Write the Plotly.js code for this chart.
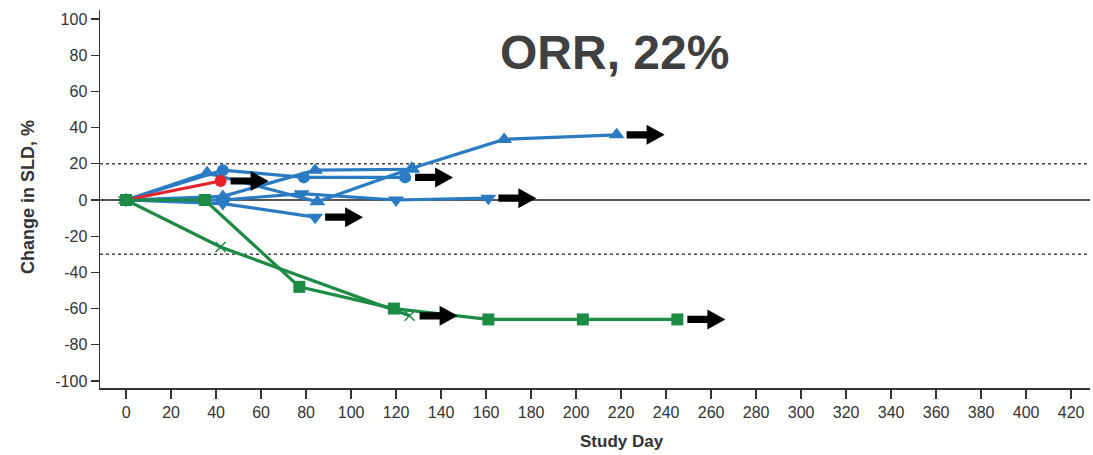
<!DOCTYPE html>
<html>
<head>
<meta charset="utf-8">
<script src="https://cdn.plot.ly/plotly-3.0.1.min.js"></script>
<style>
  html, body { margin: 0; padding: 0; background: #fff; }
  #chart { width: 1093px; height: 455px; }
</style>
</head>
<body>
<div id="chart"></div>
<script>
// ---- Data (study day, % change in SLD) ----
const blueA_day = [0, 36, 85, 127, 168, 218];
const blueA_val = [0, 15, -1, 17.5, 33.5, 36];
const blueB_day = [0, 43, 84, 127];
const blueB_val = [0, 2, 16.5, 17];
const blueC_day = [0, 43, 84];
const blueC_val = [0, -2, -9.5];
const blueD_day = [0, 43, 78, 120, 161];
const blueD_val = [0, 0, 3.5, 0, 1];
const blueE_day = [0, 43, 79, 124];
const blueE_val = [0, 16.5, 12.5, 12.5];
const red_day = [0, 42];
const red_val = [0, 10.5];
const greenSq_day = [0, 35, 77, 119, 161, 203, 245];
const greenSq_val = [0, 0, -48, -60, -66, -66, -66];
const greenX_day = [0, 42, 126];
const greenX_val = [0, -26, -64];

const xTicks = [0,20,40,60,80,100,120,140,160,180,200,220,240,260,280,300,320,340,360,380,400,420];
const yTicks = [-100,-80,-60,-40,-20,0,20,40,60,80,100];
const thresholds = [20, -30];

// ---- Style ----
const BLUE = '#2a7bc2', GREEN = '#1d8a45', RED = '#e8222b';
const W = 1093, H = 455;
const margin = {l: 100, r: 3, t: 10, b: 67};
const xRange = [-11.6, 428.4];
const yRange = [-103.9, 105];
const pxPerDay = (W - margin.l - margin.r) / (xRange[1] - xRange[0]);
const pxPerUnit = (H - margin.t - margin.b) / (yRange[1] - yRange[0]);

function series(x, y, color, symbol, msize, ongoing) {
  const mk = {symbol: symbol, size: msize, color: color};
  if (symbol === 'x-thin') mk.line = {color: color, width: 1.6};
  return {x: x, y: y, type: 'scatter', mode: 'lines+markers',
          line: {color: color, width: 3.2}, marker: mk, hoverinfo: 'skip',
          showlegend: false, ongoing: ongoing};
}

function arrowFor(x, y) {
  const d = x[x.length - 1], v = y[y.length - 1];
  const x0 = d + 10 / pxPerDay, x1 = d + 30 / pxPerDay, x2 = d + 48 / pxPerDay;
  const hs = 3.6 / pxPerUnit, hh = 10 / pxPerUnit;
  return {x: [x0, x1, x1, x2, x1, x1, x0, x0],
          y: [v - hs, v - hs, v - hh, v, v + hh, v + hs, v + hs, v - hs],
          type: 'scatter', mode: 'lines', fill: 'toself', fillcolor: '#000',
          line: {width: 0, color: '#000'}, hoverinfo: 'skip', showlegend: false};
}

const main = [
  series(blueA_day, blueA_val, BLUE, 'triangle-up', 14, true),
  series(blueB_day, blueB_val, BLUE, 'triangle-up', 14, false),
  series(blueC_day, blueC_val, BLUE, 'triangle-down', 14, true),
  series(blueD_day, blueD_val, BLUE, 'triangle-down', 14, true),
  series(blueE_day, blueE_val, BLUE, 'circle', 12, true),
  series(red_day, red_val, RED, 'circle', 12, true),
  series(greenX_day, greenX_val, GREEN, 'x-thin', 10, true),
  series(greenSq_day, greenSq_val, GREEN, 'square', 12, true)
];
const arrows = main.filter(t => t.ongoing).map(t => arrowFor(t.x, t.y));
main.forEach(t => delete t.ongoing);

const shapes = [
  {type: 'line', xref: 'paper', x0: 0, x1: 1, yref: 'y', y0: 0, y1: 0,
   line: {color: '#555', width: 2}, layer: 'below'}
].concat(thresholds.map(v => ({type: 'line', xref: 'paper', x0: 0, x1: 1, yref: 'y', y0: v, y1: v,
   line: {color: '#444', width: 1.5, dash: '3px,3px'}, layer: 'below'})));

const layout = {
  width: W, height: H, margin: margin,
  paper_bgcolor: '#fff', plot_bgcolor: '#fff',
  font: {family: 'Liberation Sans, Arial, sans-serif', color: '#333'},
  xaxis: {range: xRange, tickvals: xTicks, ticktext: xTicks.map(String),
          showgrid: false, zeroline: false, showline: true, linecolor: '#333', linewidth: 1.5,
          ticks: 'outside', ticklen: 9, tickwidth: 1.3, tickcolor: '#333',
          tickfont: {family: 'Liberation Sans Narrow, Arial Narrow, Liberation Sans, sans-serif', size: 16, color: '#333'},
          fixedrange: true},
  yaxis: {range: yRange, tickvals: yTicks, ticktext: yTicks.map(String),
          showgrid: false, zeroline: false, showline: true, linecolor: '#333', linewidth: 1.5,
          ticks: 'outside', ticklen: 8, tickwidth: 1.3, tickcolor: '#333',
          tickfont: {size: 16, color: '#333'}, fixedrange: true},
  shapes: shapes,
  annotations: [
    {text: '<b>ORR, 22%</b>', xref: 'paper', yref: 'paper', x: (614 - margin.l) / (W - margin.l - margin.r),
     y: 1 - (52 - margin.t) / (H - margin.t - margin.b), xanchor: 'center', yanchor: 'middle',
     showarrow: false, font: {size: 48, color: '#404040', family: 'Liberation Sans, Arial, sans-serif'}},
    {text: '<b>Study Day</b>', xref: 'paper', yref: 'paper', x: (622 - margin.l) / (W - margin.l - margin.r),
     y: -(441 - (H - margin.b)) / (H - margin.t - margin.b), xanchor: 'center', yanchor: 'middle',
     showarrow: false, font: {size: 17, color: '#333', family: 'Liberation Sans Narrow, Arial Narrow, Liberation Sans, sans-serif'}},
    {text: '<b>Change in SLD, %</b>', xref: 'paper', yref: 'paper', x: -(100 - 28) / (W - margin.l - margin.r),
     y: 1 - (197 - margin.t) / (H - margin.t - margin.b), xanchor: 'center', yanchor: 'middle', textangle: -90,
     showarrow: false, font: {size: 18, color: '#333'}}
  ]
};

Plotly.newPlot('chart', main.concat(arrows), layout, {displayModeBar: false, staticPlot: true});
</script>
</body>
</html>
